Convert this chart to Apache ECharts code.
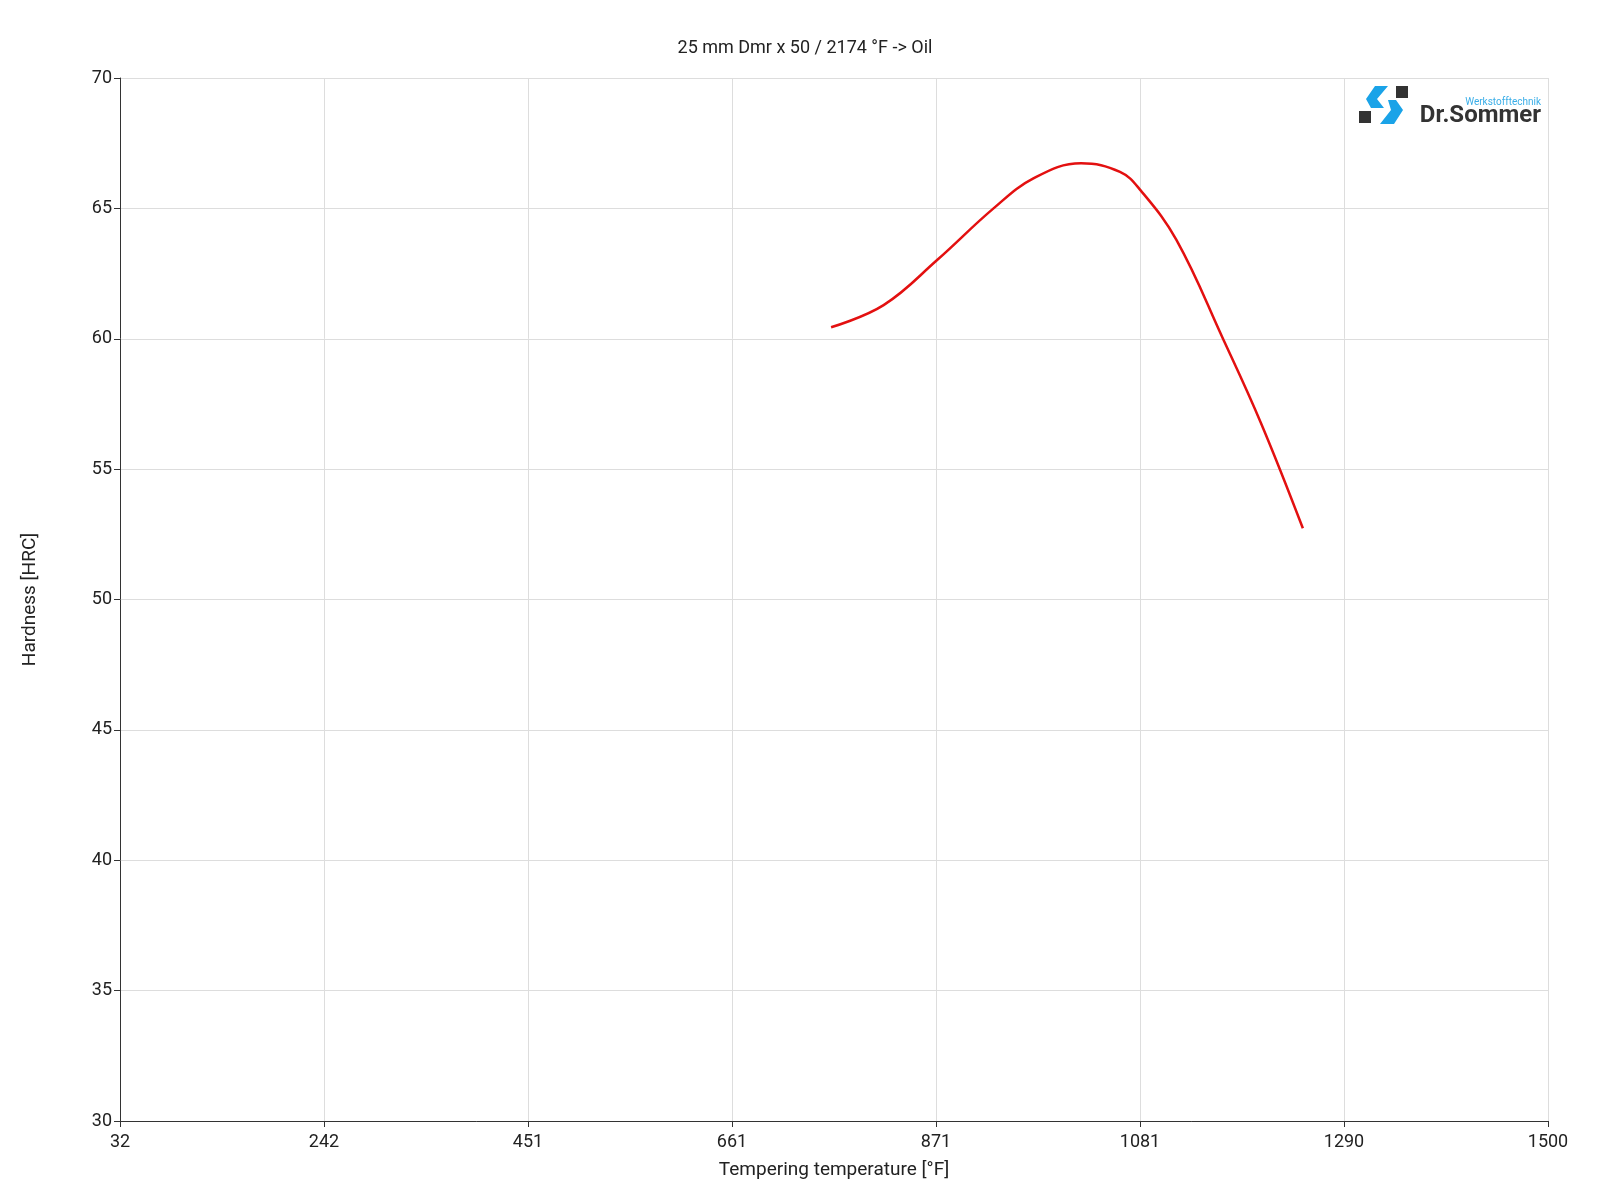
<!DOCTYPE html>
<html>
<head>
<meta charset="utf-8">
<script src="https://cdn.jsdelivr.net/npm/echarts@6/dist/echarts.min.js"></script>
<style>html,body,#main{margin:0;padding:0;width:1600px;height:1200px;background:#fff}</style>
</head>
<body>
<div id="main"></div>
<script>
// tempering temperature [°F] vs hardness [HRC]
const temps = [763, 817, 872, 930, 971, 1020, 1060, 1081, 1118, 1166, 1205, 1248];
const hardness = [60.44, 61.29, 63.02, 65.0, 66.15, 66.73, 66.4, 65.7, 63.79, 59.99, 56.76, 52.73];
const xMin = 32, xMax = 1500;

const chart = echarts.init(document.getElementById('main'));
const font = 'Roboto, sans-serif';
chart.setOption({
  animation: false,
  title: {
    text: '25 mm Dmr x 50 / 2174 °F -> Oil', left: 800, top: 34, textAlign: 'center',
    textStyle: { fontFamily: font, fontSize: 18, fontWeight: 'normal', color: '#222' }
  },
  grid: { left: 120, right: 52, top: 78, bottom: 79 },
  xAxis: {
    type: 'value', min: xMin, max: xMax, interval: (xMax - xMin) / 7,
    name: 'Tempering temperature [°F]', nameLocation: 'middle', nameGap: 40,
    nameTextStyle: { fontFamily: font, fontSize: 19, color: '#222' },
    axisLine: { lineStyle: { color: '#333' } },
    axisTick: { show: true, length: 6, lineStyle: { color: '#333' } },
    axisLabel: { fontFamily: font, fontSize: 18, color: '#222', margin: 12, formatter: v => Math.round(v) },
    splitLine: { lineStyle: { color: '#ddd' } }
  },
  yAxis: {
    type: 'value', min: 30, max: 70, interval: 5,
    name: 'Hardness [HRC]', nameLocation: 'middle', nameGap: 80,
    nameTextStyle: { fontFamily: font, fontSize: 19, color: '#222' },
    axisLine: { show: true, lineStyle: { color: '#333' } },
    axisTick: { show: true, length: 6, lineStyle: { color: '#333' } },
    axisLabel: { fontFamily: font, fontSize: 18, color: '#222' },
    splitLine: { lineStyle: { color: '#ddd' } }
  },
  series: [{
    type: 'line', smooth: 0.4, symbol: 'none',
    lineStyle: { color: '#e31010', width: 2.5 },
    data: temps.map((t, i) => [t, hardness[i]])
  }],
  graphic: [
    { type: 'rect', shape: { x: 1359, y: 111, width: 12, height: 12 }, style: { fill: '#333' } },
    { type: 'rect', shape: { x: 1396, y: 86, width: 12, height: 12 }, style: { fill: '#333' } },
    { type: 'polygon', shape: { points: [[1375, 86], [1388, 86], [1377, 99], [1384, 108], [1371, 108], [1366, 99]] }, style: { fill: '#1aa3e8' } },
    { type: 'polygon', shape: { points: [[1388, 100], [1396, 100], [1403, 110], [1394, 124], [1380, 124], [1391, 110]] }, style: { fill: '#1aa3e8' } },
    { type: 'text', style: { text: 'Werkstofftechnik', x: 1541, y: 102, align: 'right', verticalAlign: 'middle', fontFamily: font, fontSize: 10, fill: '#3aaee8' } },
    { type: 'text', style: { text: 'Dr.Sommer', x: 1541, y: 116, align: 'right', verticalAlign: 'middle', fontFamily: font, fontSize: 24, fontWeight: 'bold', fill: '#333' } }
  ]
});
</script>
</body>
</html>
